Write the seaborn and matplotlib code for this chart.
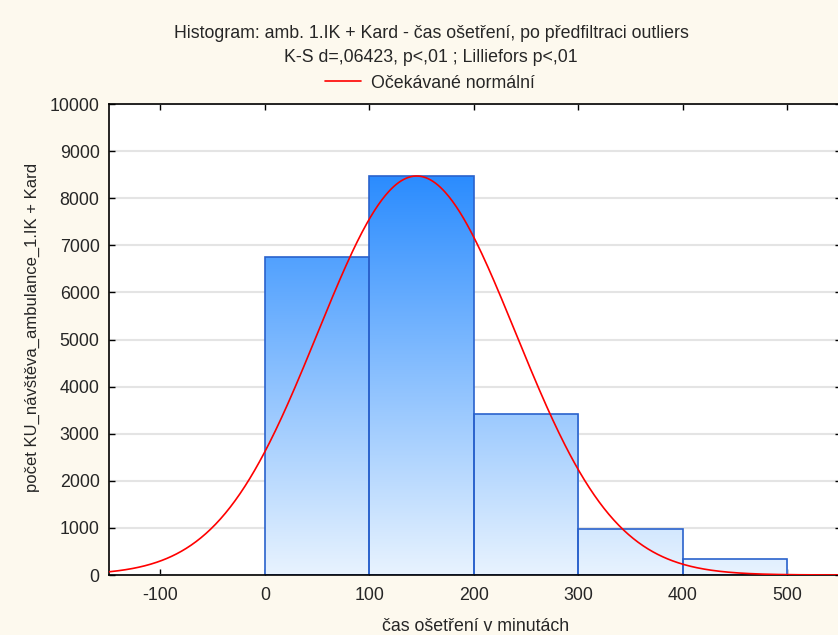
import numpy as np
import pandas as pd
import matplotlib
matplotlib.use("Agg")
import matplotlib.pyplot as plt
from matplotlib.colors import LinearSegmentedColormap
import seaborn as sns

# ---- data ----
bin_edges = [0, 100, 200, 300, 400, 500]
bin_centers = [50, 150, 250, 350, 450]
counts = [6755, 8471, 3418, 977, 335]
mean_time = 145.2
sd_time = 94.8
n_total = 20130
bin_width = 100
x_ticks = [-100, 0, 100, 200, 300, 400, 500]
y_ticks = [0, 1000, 2000, 3000, 4000, 5000, 6000, 7000, 8000, 9000, 10000]

title1 = "Histogram: amb. 1.IK + Kard - čas ošetření, po předfiltraci outliers"
title2 = "K-S d=,06423, p<,01 ; Lilliefors p<,01"
legend_label = "Očekávané normální"
xlabel = "čas ošetření v minutách"
ylabel = "počet KU_návštěva_ambulance_1.IK + Kard"

sns.set_style("white")
plt.rcParams["font.family"] = ["Liberation Sans", "DejaVu Sans"]
plt.rcParams["axes.unicode_minus"] = False

fs = 12.8
bg = "#fdf9ee"
fig = plt.figure(figsize=(8.38, 6.35), dpi=100, facecolor=bg)
ax = fig.add_axes([109.3 / 838, 60 / 635, 731.7 / 838, 471 / 635])
ax.set_facecolor("white")

XL = (-149, 551.4)

df = pd.DataFrame({"t": bin_centers, "n": counts})
sns.histplot(data=df, x="t", weights="n", bins=bin_edges, ax=ax,
             stat="count", element="bars", fill=True,
             edgecolor="#2a62cc", linewidth=1.2, color="#2b8efe", alpha=1)

ax.set_xlim(*XL)
ax.set_ylim(0, 10000)

# gradient fill for bars (absolute-y gradient)
cmap = LinearSegmentedColormap.from_list("g", ["#e8f3fe", "#2b8cff"])
grad = np.linspace(0, 1, 256).reshape(-1, 1)
for p in list(ax.patches):
    p.set_facecolor("none")
    im = ax.imshow(grad, cmap=cmap, origin="lower", aspect="auto",
                   extent=[XL[0], XL[1], 0, 8471], zorder=p.get_zorder() - 0.1)
    im.set_clip_path(p)
    p.set_zorder(2.5)

# expected normal curve
xs = np.linspace(XL[0], XL[1], 600)
ys = n_total * bin_width / (sd_time * np.sqrt(2 * np.pi)) * np.exp(-0.5 * ((xs - mean_time) / sd_time) ** 2)
sns.lineplot(x=xs, y=ys, ax=ax, color="#ff0000", linewidth=1.2, label=legend_label, zorder=4)
ax.set_xlim(*XL)
ax.set_ylim(0, 10000)

ax.set_xticks(x_ticks)
ax.set_yticks(y_ticks)
ax.yaxis.grid(True, color="#e4e4e4", linewidth=1.5, zorder=0)
ax.set_axisbelow(True)
ax.tick_params(direction="in", length=4, width=1, labelsize=fs, color="black",
               top=True, right=True, bottom=True, left=True)
ax.tick_params(axis="x", pad=9)
ax.tick_params(axis="y", pad=7)
for s in ax.spines.values():
    s.set_color("black")
    s.set_linewidth(1.2)
ax.spines["right"].set_visible(False)

ax.set_xlabel(xlabel, fontsize=fs, labelpad=10)
ax.set_ylabel(ylabel, fontsize=12)
ax.yaxis.set_label_coords((40 - 109.3) / 731.7, (635 - 327 - 60) / 471)

leg = ax.legend(loc="center", bbox_to_anchor=(430 / 838, 1 - 83 / 635),
                bbox_transform=fig.transFigure, frameon=False, fontsize=fs,
                handlelength=2.0, handletextpad=0.6)

fig.text(431 / 838, 1 - 33 / 635, title1, ha="center", va="center", fontsize=fs)
fig.text(431 / 838, 1 - 58 / 635, title2, ha="center", va="center", fontsize=fs)

fig.savefig("out.png", dpi=100, facecolor=bg)
